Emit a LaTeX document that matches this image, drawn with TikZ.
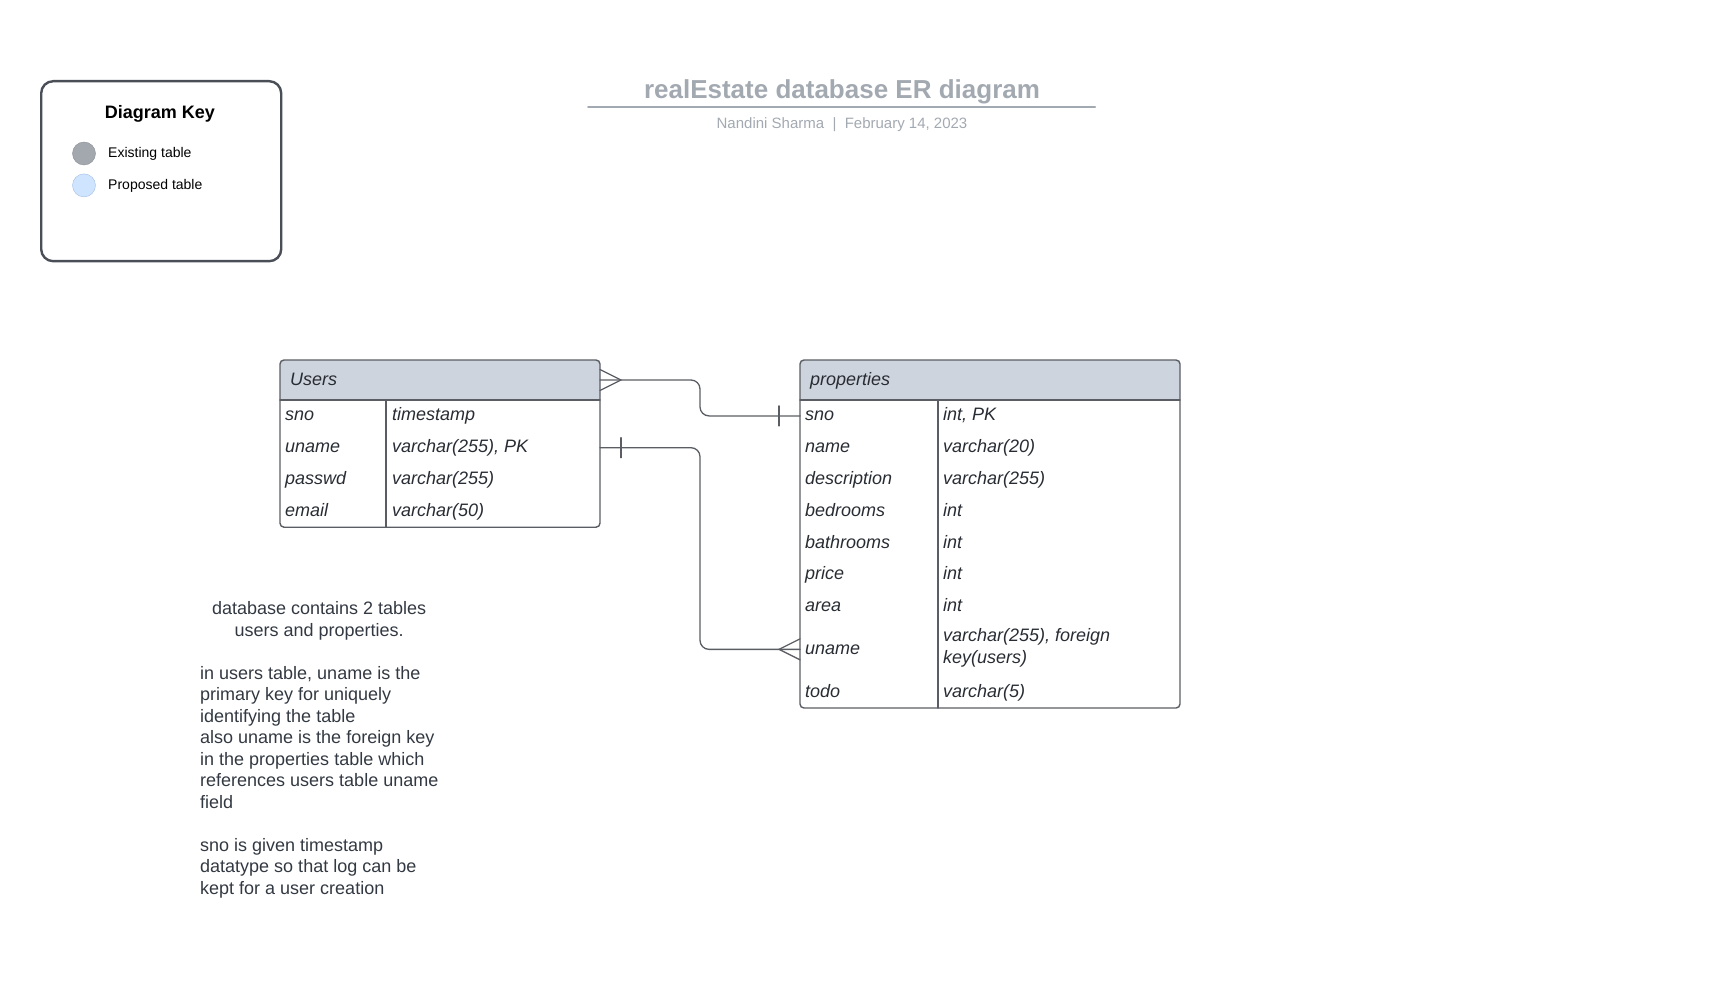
\documentclass[tikz,border=0pt]{standalone}
\usepackage{fontspec}
\setmainfont{Liberation Sans}
\usepackage{tikz}
\usetikzlibrary{positioning, calc}
\definecolor{keyBorder}{RGB}{74,79,87}
\definecolor{titleGray}{RGB}{163,169,177}
\definecolor{tabLine}{RGB}{90,93,99}
\definecolor{tabHead}{RGB}{206,212,221}
\definecolor{tabText}{RGB}{40,44,51}
\definecolor{noteText}{RGB}{51,57,66}
\definecolor{existFill}{RGB}{163,167,174}
\definecolor{existLine}{RGB}{140,144,151}
\definecolor{propFill}{RGB}{207,228,255}
\definecolor{propLine}{RGB}{160,190,225}
\newcommand{\rowstrut}{\rule[-7pt]{0pt}{24pt}}

\tikzset{
  rowbox/.style={inner xsep=5pt, inner ysep=0pt, outer sep=0pt, minimum height=31.8pt, align=left, text=tabText,
    font=\fontsize{18}{21.5}\selectfont\itshape, execute at begin node=\rowstrut},
  fld/.style={inner sep=0pt, outer sep=0pt, align=left, text=tabText, font=\fontsize{18}{21.5}\selectfont\itshape,
    execute at begin node=\rowstrut},
  headbox/.style={fill=tabHead, rounded corners=4pt, minimum height=40pt, anchor=north west, inner sep=0pt, outer sep=0pt},
  link/.style={draw=tabLine, line width=1.3pt, rounded corners=9pt},
  foot/.style={draw=tabLine, line width=1.3pt},
}

\begin{document}
\begin{tikzpicture}[x=1pt, y=-1pt, style={line cap = round}]
  \useasboundingbox (0,0) rectangle (1720,1008);

  % diagram key
  \node[draw=keyBorder, line width=2.4pt, rounded corners=12pt, minimum width=240pt, minimum height=180pt, anchor=north west] (keyBox) at (40,80) {};
  \node[font=\bfseries\fontsize{18}{21}\selectfont] (keyTitle) at (160,114) {Diagram Key};
  \node[circle, fill=existFill, draw=existLine, minimum size=23pt, inner sep=0pt] (keyExist) at (84,153.5) {};
  \node[circle, fill=propFill, draw=propLine, minimum size=23pt, inner sep=0pt, below=8.5pt of keyExist] (keyProp) {};
  \node[font=\fontsize{14}{16}\selectfont, right=9pt of keyExist] (keyExistText) {Existing table};
  \node[font=\fontsize{14}{16}\selectfont, right=9pt of keyProp] (keyPropText) {Proposed table};

  % title
  \node[font=\bfseries\fontsize{26}{30}\selectfont, text=titleGray] (title) at (842,92) {realEstate database ER diagram};
  \draw[titleGray, line width=2pt] (588,107.5) -- (1095,107.5);
  \node[font=\fontsize{15}{18}\selectfont, text=titleGray] (byline) at (842,124.5) {Nandini Sharma\ \ |\ \ February 14, 2023};

  % Users table
  \node[headbox, minimum width=320pt] (uHead) at (280,360) {};
  \fill[tabHead] (280,380) rectangle (600,400);
  \node[fld, right=10pt of uHead.west] (uTitle) {Users};
  \node[rowbox, text width=310pt, anchor=north west] (uSno) at (280,400) {sno};
  \node[rowbox, text width=310pt, below=0pt of uSno] (uUname) {uname};
  \node[rowbox, text width=310pt, below=0pt of uUname] (uPasswd) {passwd};
  \node[rowbox, text width=310pt, below=0pt of uPasswd] (uEmail) {email};
  \node[fld, right=112pt of uSno.west] (uSnoType) {timestamp};
  \node[fld, right=112pt of uUname.west] (uUnameType) {varchar(255), PK};
  \node[fld, right=112pt of uPasswd.west] (uPasswdType) {varchar(255)};
  \node[fld, right=112pt of uEmail.west] (uEmailType) {varchar(50)};
  \draw[tabLine, line width=1.4pt, rounded corners=4pt] (280,360) rectangle (600,527.2);
  \draw[tabLine, line width=1.4pt] (280,400) -- (600,400) (386,400) -- (386,527.2);

  % properties table
  \node[headbox, minimum width=380pt] (pHead) at (800,360) {};
  \fill[tabHead] (800,380) rectangle (1180,400);
  \node[fld, right=10pt of pHead.west] (pTitle) {properties};
  \node[rowbox, text width=370pt, anchor=north west] (pSno) at (800,400) {sno};
  \node[rowbox, text width=370pt, below=0pt of pSno] (pName) {name};
  \node[rowbox, text width=370pt, below=0pt of pName] (pDesc) {description};
  \node[rowbox, text width=370pt, below=0pt of pDesc] (pBed) {bedrooms};
  \node[rowbox, text width=370pt, below=0pt of pBed] (pBath) {bathrooms};
  \node[rowbox, text width=370pt, below=0pt of pBath] (pPrice) {price};
  \node[rowbox, text width=370pt, below=0pt of pPrice] (pArea) {area};
  \node[rowbox, text width=370pt, minimum height=53.5pt, below=0pt of pArea] (pUname) {uname};
  \node[rowbox, text width=370pt, below=0pt of pUname] (pTodo) {todo};
  \node[fld, right=143pt of pSno.west] (pSnoType) {int, PK};
  \node[fld, right=143pt of pName.west] (pNameType) {varchar(20)};
  \node[fld, right=143pt of pDesc.west] (pDescType) {varchar(255)};
  \node[fld, right=143pt of pBed.west] (pBedType) {int};
  \node[fld, right=143pt of pBath.west] (pBathType) {int};
  \node[fld, right=143pt of pPrice.west] (pPriceType) {int};
  \node[fld, right=143pt of pArea.west] (pAreaType) {int};
  \node[fld, right=143pt of pUname.west] (pUnameType) {varchar(255), foreign\\key(users)\rowstrut};
  \node[fld, right=143pt of pTodo.west] (pTodoType) {varchar(5)};
  \draw[tabLine, line width=1.4pt, rounded corners=4pt] (800,360) rectangle (1180,708);
  \draw[tabLine, line width=1.4pt] (800,400) -- (1180,400) (938,400) -- (938,708);

  % relations
  \draw[link] (uHead.east) -- ++(100,0) |- (pSno.west);
  \draw[foot] ([yshift=10.5pt]uHead.east) -- ([xshift=21pt]uHead.east) -- ([yshift=-10.5pt]uHead.east);
  \draw[foot] ([xshift=-21pt, yshift=10pt]pSno.west) -- ([xshift=-21pt, yshift=-10pt]pSno.west);

  \draw[link] (uUname.east) -- ++(100,0) |- (pUname.west);
  \draw[foot] ([xshift=21pt, yshift=10pt]uUname.east) -- ([xshift=21pt, yshift=-10pt]uUname.east);
  \draw[foot] ([yshift=10.5pt]pUname.west) -- ([xshift=-21pt]pUname.west) -- ([yshift=-10.5pt]pUname.west);

  % notes
  \node[anchor=north west, align=left, inner sep=0pt, text=noteText, font=\fontsize{18}{21.5}\selectfont] (notes) at (200,601.5)
    {\makebox[238pt][c]{database contains 2 tables}\\
     \makebox[238pt][c]{users and properties.}\\[21.5pt]
     in users table, uname is the\\
     primary key for uniquely\\
     identifying the table\\
     also uname is the foreign key\\
     in the properties table which\\
     references users table uname\\
     field\\[21.5pt]
     sno is given timestamp\\
     datatype so that log can be\\
     kept for a user creation};
\end{tikzpicture}
\end{document}
